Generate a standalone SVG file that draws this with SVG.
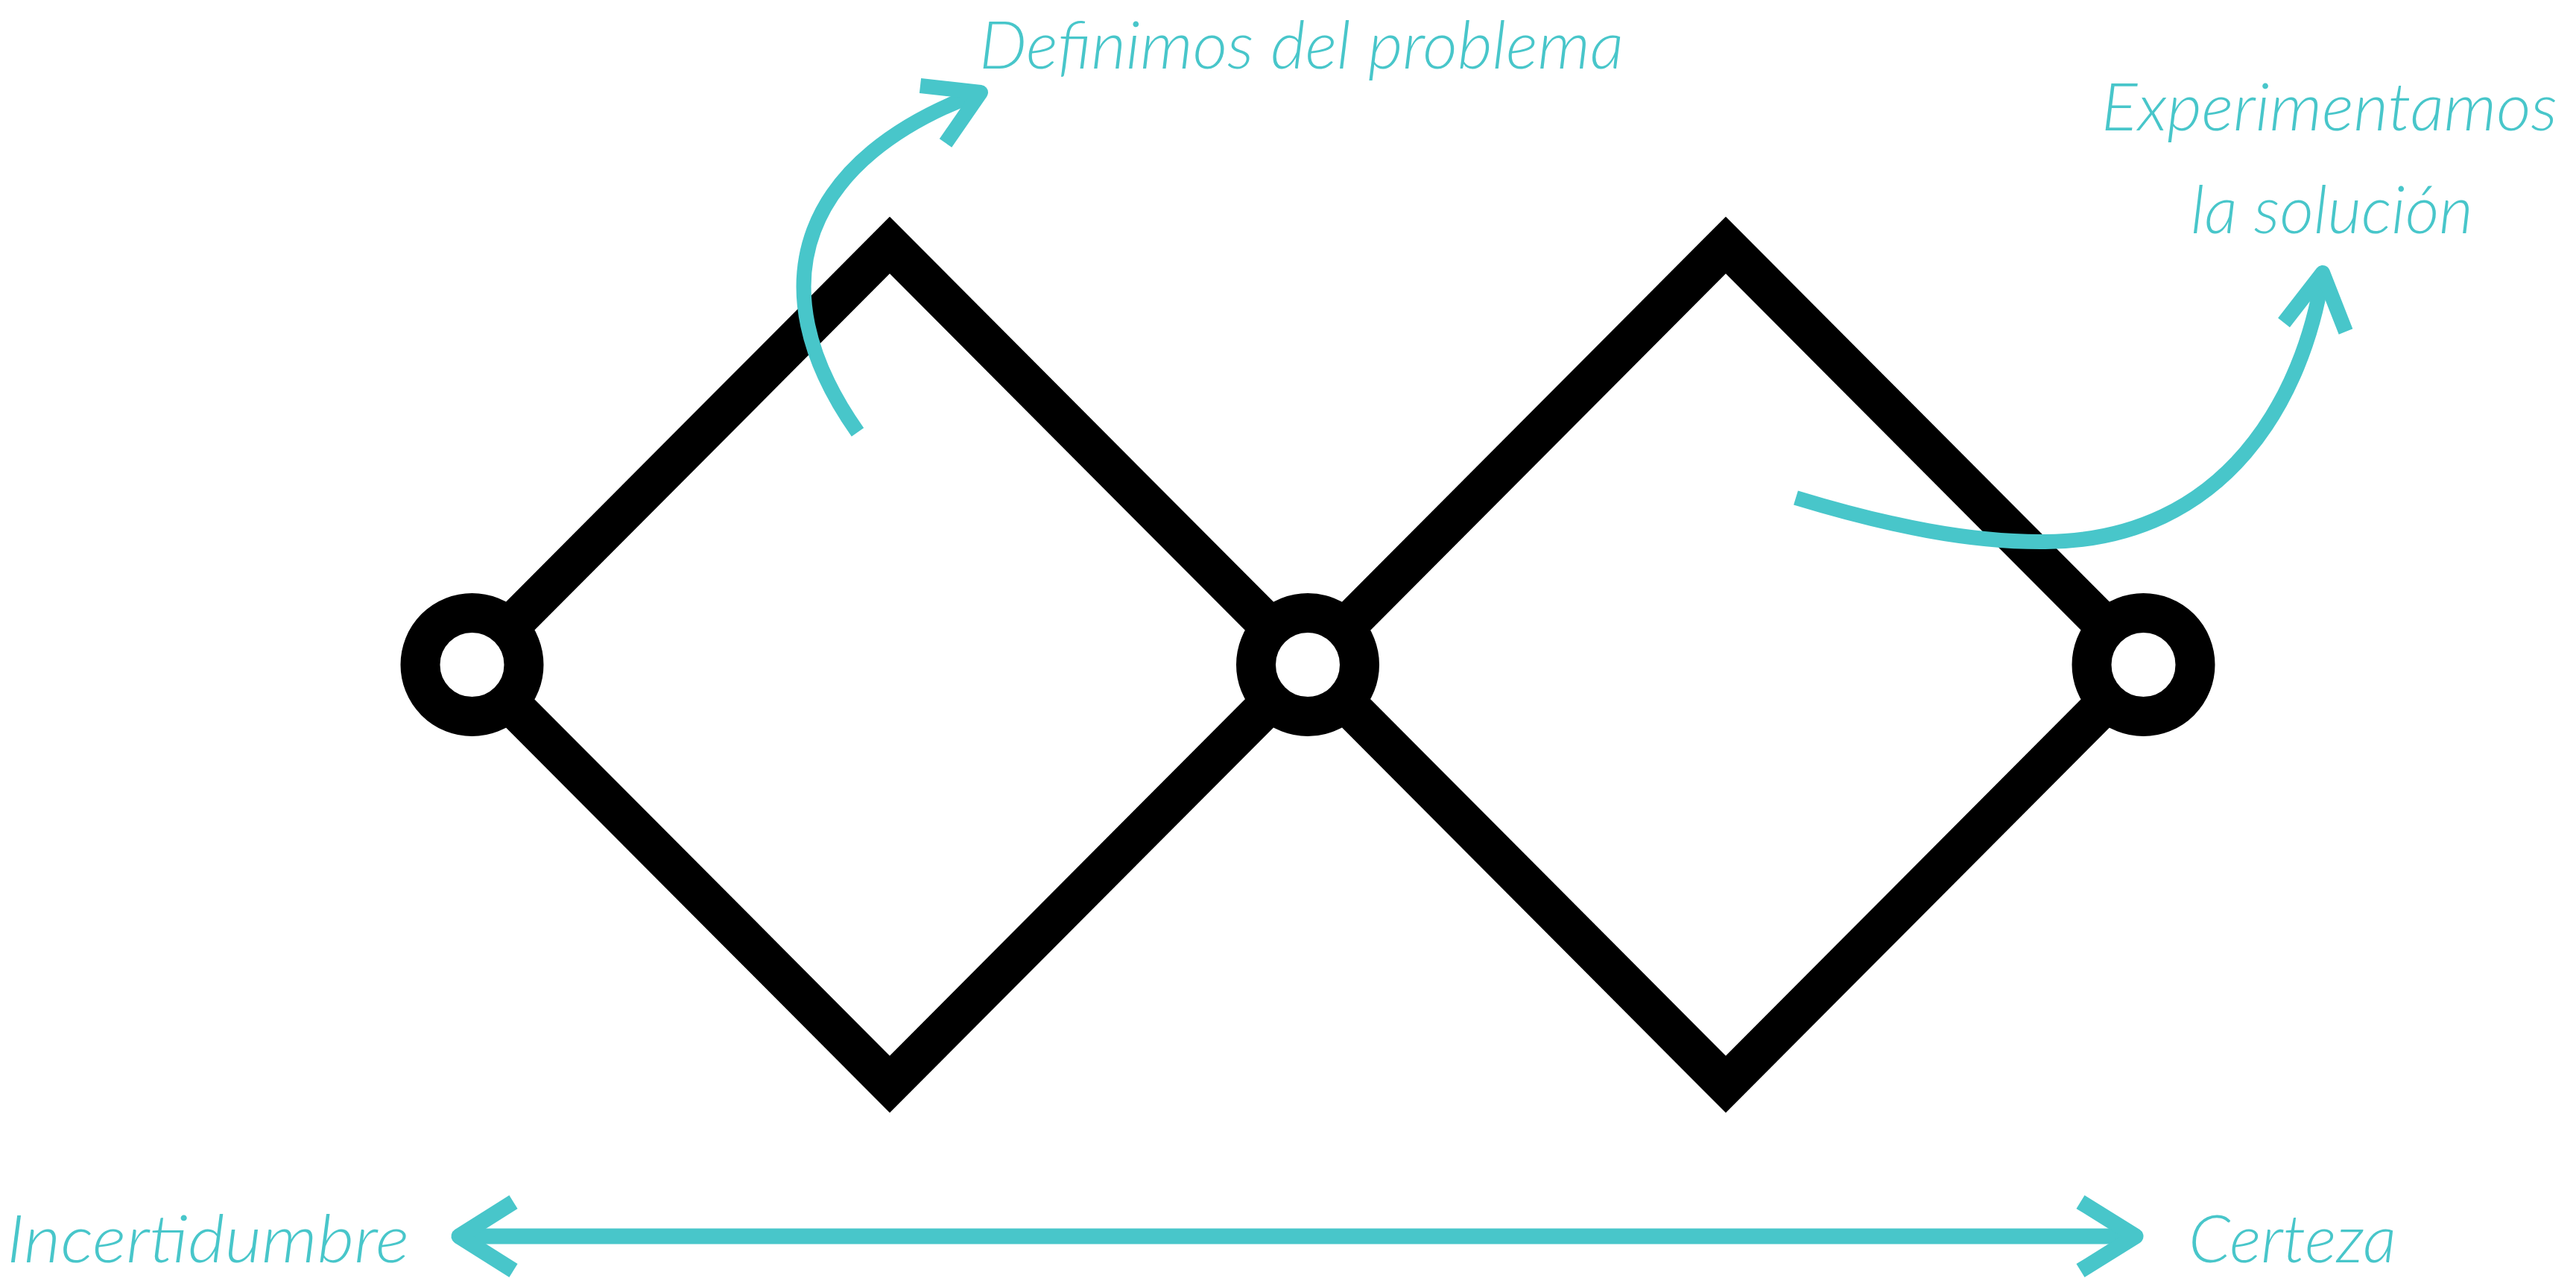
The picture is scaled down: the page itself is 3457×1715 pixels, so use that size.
<svg xmlns="http://www.w3.org/2000/svg" width="3457" height="1715" viewBox="0 0 3457 1715">
<style>
.dia{fill:none;stroke:#000;stroke-width:54;stroke-linejoin:miter;stroke-miterlimit:10}
.ring{fill:#fff;stroke:#000;stroke-width:53}
.arr{fill:none;stroke:#48C6CA;stroke-width:20;stroke-linejoin:round;stroke-linecap:butt}
.lbl{fill:#48C6CA;font-family:Lato,"Open Sans","Noto Sans",sans-serif;font-style:italic;font-weight:300;font-size:88px}
</style>
<rect width="3457" height="1715" fill="#fff"/>
<g id="diamond-1"><polygon class="dia" points="633,892 1194,329 1755,892 1194,1455"/></g>
<g id="diamond-2"><polygon class="dia" points="1755,892 2316,329 2877,892 2316,1455"/></g>
<g id="node-1"><circle class="ring" cx="633.5" cy="892" r="69.5"/></g>
<g id="node-2"><circle class="ring" cx="1755" cy="892" r="69.5"/></g>
<g id="node-3"><circle class="ring" cx="2876.5" cy="892" r="69.5"/></g>
<g id="connectors">
<path class="arr" d="M1151,580 C1010,380 1080,210 1316,124"/>
<path class="arr" d="M1235,115 L1316,124 L1269,192"/>
<path class="arr" d="M2410,668 C2535,706 2645,728 2745,727 C2990,725 3092,530 3117,368"/>
<path class="arr" d="M3065,433 L3117,366 L3148,445"/>
<path class="arr" style="stroke-width:21" d="M622,1659 L2862,1659"/>
<path class="arr" style="stroke-width:21" d="M689,1613 L616,1659 L689,1705"/>
<path class="arr" style="stroke-width:21" d="M2792,1613 L2866,1659 L2792,1705"/>
</g>
<g id="labels">
<text class="lbl" x="1314" y="92" textLength="865" lengthAdjust="spacingAndGlyphs">Definimos del problema</text>
<text class="lbl" x="2820" y="175" textLength="612" lengthAdjust="spacingAndGlyphs">Experimentamos</text>
<text class="lbl" x="2940" y="313" textLength="379" lengthAdjust="spacingAndGlyphs">la solución</text>
<text class="lbl" x="9" y="1694" textLength="540" lengthAdjust="spacingAndGlyphs">Incertidumbre</text>
<text class="lbl" x="2937" y="1694" textLength="279" lengthAdjust="spacingAndGlyphs">Certeza</text>
</g>
</svg>
